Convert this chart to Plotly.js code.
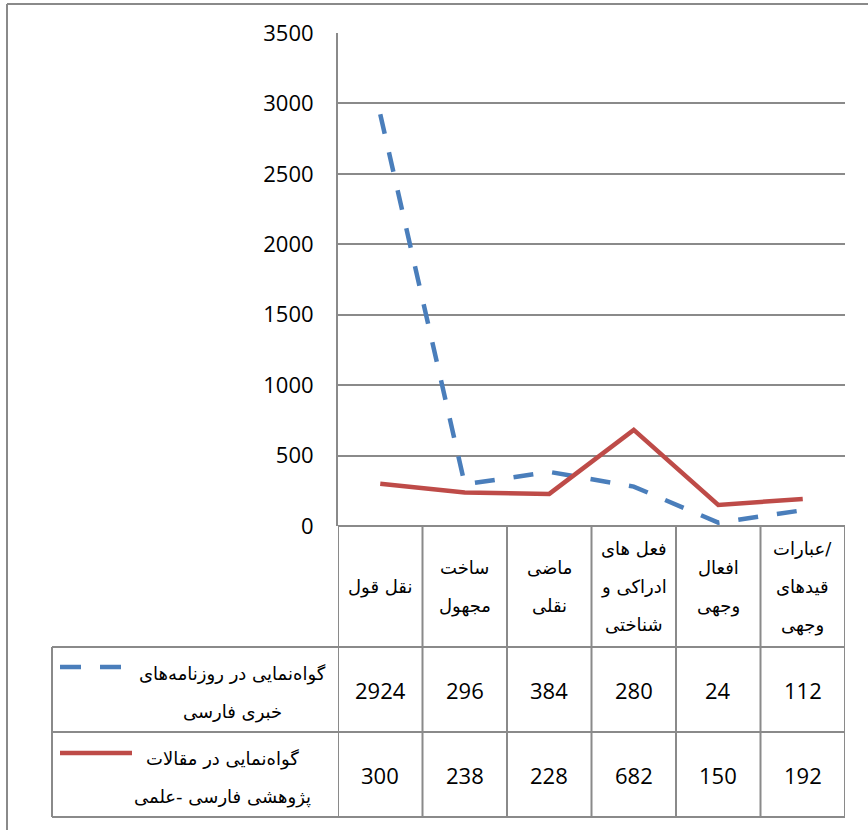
<!DOCTYPE html>
<html>
<head>
<meta charset="utf-8">
<script src="https://cdn.plot.ly/plotly-3.0.1.min.js"></script>
<style>html,body{margin:0;padding:0;background:#fff;}#chart{width:868px;height:830px;}</style>
</head>
<body>
<div id="chart"></div>
<script>
// ---- data ----
const categories = [
  "نقل قول",
  "ساخت\nمجهول",
  "ماضی\nنقلی",
  "فعل های\nادراکی و\nشناختی",
  "افعال\nوجهی",
  "عبارات/\nقیدهای\nوجهی"
];
const seriesNames = [
  "گواه\u200cنمایی در روزنامه\u200cهای\nخبری فارسی",
  "گواه\u200cنمایی در مقالات\nپژوهشی فارسی -علمی"
];
const newsValues = [2924, 296, 384, 280, 24, 112];
const researchValues = [300, 238, 228, 682, 150, 192];
const yTickValues = [0, 500, 1000, 1500, 2000, 2500, 3000, 3500];

// ---- geometry helpers (pixel -> paper) ----
const W = 868, H = 830;
const M = {l: 338, r: 23, t: 33, b: 304};
const plotW = W - M.l - M.r, plotH = H - M.t - M.b;
const px = p => (p - M.l) / plotW;
const py = p => (H - M.b - p) / plotH;

const gridColor = '#8a8a8a';
const blue = '#4A7EBB', red = '#BE4B48';
const numFont = {family: 'Open Sans, DejaVu Sans, sans-serif', size: 22, color: '#000'};
const faFont = {family: 'DejaVu Sans, sans-serif', size: 18, color: '#000'};

const xIdx = categories.map((_, i) => i);

const traces = [
  {x: xIdx, y: newsValues, type: 'scatter', mode: 'lines', name: seriesNames[0],
   line: {color: blue, width: 4.5, dash: '20px,19px'}, hoverinfo: 'skip'},
  {x: xIdx, y: researchValues, type: 'scatter', mode: 'lines', name: seriesNames[1],
   line: {color: red, width: 4.5}, hoverinfo: 'skip'}
];

const headerTop = 526, row1Top = 647, row2Top = 732, tableBottom = 817, tableLeft = 52;
const shapes = [];
const lineShape = (x0, y0, x1, y1, xref, extra) => Object.assign({
  type: 'line', xref: xref || 'paper', yref: 'paper', x0, y0, x1, y1,
  line: {color: gridColor, width: 2}, layer: 'above'
}, extra || {});

// outer frame (left & top edges)
shapes.push(lineShape(px(7), py(4), px(7), py(900)));
shapes.push(lineShape(px(7), py(4), px(900), py(4)));
// table verticals at category boundaries
for (let i = 0; i <= categories.length; i++) {
  shapes.push(lineShape(i - 0.5, py(headerTop), i - 0.5, py(tableBottom), 'x'));
}
shapes.push(lineShape(px(tableLeft), py(row1Top), px(tableLeft), py(tableBottom)));
// table horizontals
shapes.push(lineShape(0, py(headerTop), 1, py(headerTop)));
[row1Top, row2Top, tableBottom].forEach(y => shapes.push(lineShape(px(tableLeft), py(y), 1, py(y))));
// legend keys in row headers
shapes.push({type: 'line', xref: 'paper', yref: 'paper', x0: px(60), x1: px(124), y0: py(667), y1: py(667),
  line: {color: blue, width: 4.5, dash: '21px,19px'}});
shapes.push({type: 'line', xref: 'paper', yref: 'paper', x0: px(60), x1: px(132), y0: py(753), y1: py(753),
  line: {color: red, width: 4.5}});

const annotations = [];
const lineGap = 38;
// header labels
categories.forEach((c, i) => {
  const lines = c.split('\n');
  const n = lines.length;
  const mid = (headerTop + row1Top) / 2;
  lines.forEach((t, k) => {
    annotations.push({xref: 'x', yref: 'paper', x: i, y: py(mid + (k - (n - 1) / 2) * lineGap),
      text: t, showarrow: false, xanchor: 'center', yanchor: 'middle', font: faFont});
  });
});
// values
const rowMids = [(row1Top + row2Top) / 2, (row2Top + tableBottom) / 2];
[newsValues, researchValues].forEach((vals, r) => {
  vals.forEach((v, i) => {
    annotations.push({xref: 'x', yref: 'paper', x: i, y: py(rowMids[r]), text: String(v),
      showarrow: false, xanchor: 'center', yanchor: 'middle', font: numFont});
  });
});
// series names
const nameCenters = [232, 222];
seriesNames.forEach((s, r) => {
  const lines = s.split('\n');
  const n = lines.length;
  const mid = rowMids[r] + 3;
  lines.forEach((t, k) => {
    annotations.push({xref: 'paper', yref: 'paper', x: px(nameCenters[r]), y: py(mid + (k - (n - 1) / 2) * lineGap),
      text: t, showarrow: false, xanchor: 'center', yanchor: 'middle', font: faFont});
  });
});

const layout = {
  width: W, height: H,
  margin: M,
  paper_bgcolor: '#fff', plot_bgcolor: '#fff',
  showlegend: false,
  xaxis: {range: [-0.5, categories.length - 0.5], showgrid: false, zeroline: false,
          showticklabels: false, ticks: '', showline: false, fixedrange: true},
  yaxis: {range: [0, 3500], tickvals: yTickValues, ticktext: yTickValues.map(String),
          showgrid: true, gridcolor: gridColor, gridwidth: 2,
          zeroline: true, zerolinecolor: gridColor, zerolinewidth: 2,
          showline: true, linecolor: gridColor, linewidth: 2, ticks: '',
          ticklabelstandoff: 18, tickfont: numFont, fixedrange: true},
  shapes, annotations
};

Plotly.newPlot('chart', traces, layout, {staticPlot: true, displayModeBar: false});
</script>
</body>
</html>
